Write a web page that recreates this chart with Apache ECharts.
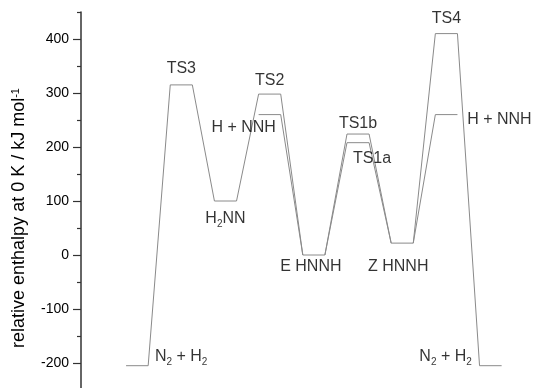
<!DOCTYPE html>
<html>
<head>
<meta charset="utf-8">
<script src="https://cdn.jsdelivr.net/npm/echarts@6/dist/echarts.min.js"></script>
<style>
  html, body { margin: 0; padding: 0; background: #ffffff; }
  #chart { width: 533px; height: 388px; }
</style>
</head>
<body>
<div id="chart"></div>
<script>
// Enthalpy profile for the N2 + H2 reaction (kJ/mol at 0 K).
// Stationary points on the main path, in order along the reaction coordinate.
const mainStages = ['N_2 + H_2', 'TS3', 'H_2NN', 'TS2', 'E HNNH', 'TS1b', 'Z HNNH', 'TS4', 'N_2 + H_2'];
const mainEnthalpy = [-205, 315, 100, 298, 0, 224, 22, 410, -205];

// Side levels drawn next to a main stage, and which neighbours they join.
const sideStages = ['H + NNH', 'TS1a', 'H + NNH'];
const sideAt = [3, 5, 7];
const sideEnthalpy = [260, 208, 260];
const sideLinks = ['next', 'both', 'prev'];

// Y axis ticks
const yMajorTicks = [-200, -100, 0, 100, 200, 300, 400];
const yMinorTicks = [-150, -50, 50, 150, 250, 350, 450];

// ---- drawing ----
const HALF = 0.25;          // half width of a level, in stage units
const LINE = '#8a8a8a';
const FONT = 'Liberation Sans, Arial, sans-serif';

function levelPoints(i, e) {
  return [[i - HALF, e], [i + HALF, e]];
}

// main path: every level joined to the next
const mainPath = [];
mainEnthalpy.forEach((e, i) => { mainPath.push(...levelPoints(i, e)); });

// side branches
const sidePaths = sideEnthalpy.map((e, k) => {
  const i = sideAt[k];
  const pts = [];
  if (sideLinks[k] === 'prev' || sideLinks[k] === 'both') pts.push([i - 1 + HALF, mainEnthalpy[i - 1]]);
  pts.push(...levelPoints(i, e));
  if (sideLinks[k] === 'next' || sideLinks[k] === 'both') pts.push([i + 1 - HALF, mainEnthalpy[i + 1]]);
  return pts;
});

// text with "_d" marks a subscript digit
function richName(s) {
  return '{n|' + s.replace(/_(\d)/g, '}{s|$1}{n|') + '}';
}

const labelRich = {
  n: { fontSize: 16, lineHeight: 16, verticalAlign: 'top', color: '#000', fontFamily: FONT },
  s: { fontSize: 10, lineHeight: 19, verticalAlign: 'bottom', padding: [9, 0, 0, 0], color: '#000', fontFamily: FONT }
};

// label offsets (px) from the centre of each level
const mainLabelOffset = [[44, -8], [0, -16], [0, 19], [0, -13], [-3, 11.5], [0, -10], [-4, 23], [0, -15], [-45, -8]];
const sideLabelOffset = [[-26, 13], [14, 16], [53, 5]];

const labelData = [];
mainStages.forEach((name, i) => {
  labelData.push({
    value: [i, mainEnthalpy[i]],
    label: { formatter: richName(name), offset: mainLabelOffset[i] }
  });
});
sideStages.forEach((name, k) => {
  labelData.push({
    value: [sideAt[k], sideEnthalpy[k]],
    label: { formatter: richName(name), offset: sideLabelOffset[k] }
  });
});

const lineSeries = (data) => ({
  type: 'line',
  data: data,
  symbol: 'none',
  silent: true,
  animation: false,
  lineStyle: { color: LINE, width: 1 },
  z: 2
});

const chart = echarts.init(document.getElementById('chart'), null, { renderer: 'canvas' });
chart.setOption({
  backgroundColor: '#ffffff',
  animation: false,
  textStyle: { fontFamily: FONT },
  grid: { left: 81, right: 0, top: 12, bottom: -2, containLabel: false, outerBoundsMode: 'none' },
  xAxis: { type: 'value', min: -1.27, max: 8.96, show: false },
  yAxis: [
    {
      type: 'value', min: -250, max: 450, position: 'left',
      name: '{t|relative enthalpy at 0 K / kJ mol}{p|-1}',
      nameLocation: 'middle', nameGap: 50, nameRotate: 90,
      nameTextStyle: {
        padding: [0, 34, 0, 0],
        rich: {
          t: { fontSize: 18, lineHeight: 18, verticalAlign: 'bottom', color: '#000', fontFamily: FONT },
          p: { fontSize: 11, lineHeight: 11, verticalAlign: 'top', padding: [0, 0, 9, 0], color: '#000', fontFamily: FONT }
        }
      },
      axisLine: { show: true, onZero: false, lineStyle: { color: '#333', width: 1.5 } },
      axisTick: { show: true, length: 8, customValues: yMajorTicks, lineStyle: { color: '#333', width: 1.2 } },
      axisLabel: { show: true, customValues: yMajorTicks, fontSize: 14, color: '#000', margin: 12, fontFamily: FONT },
      splitLine: { show: false }
    },
    {
      type: 'value', min: -250, max: 450, position: 'left', offset: 0,
      axisLine: { show: false, onZero: false },
      axisTick: { show: true, length: 4, customValues: yMinorTicks, lineStyle: { color: '#333', width: 1.2 } },
      axisLabel: { show: false },
      splitLine: { show: false }
    }
  ],
  series: [
    lineSeries(mainPath),
    ...sidePaths.map(lineSeries),
    {
      type: 'scatter',
      data: labelData,
      symbolSize: 0,
      silent: true,
      z: 3,
      label: { show: true, position: 'inside', align: 'center', verticalAlign: 'middle', color: '#000', rich: labelRich }
    }
  ]
});
</script>
</body>
</html>
